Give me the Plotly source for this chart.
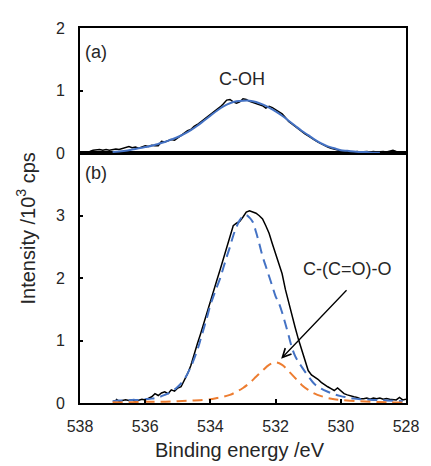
import plotly.graph_objects as go

# --- data (binding energy in eV, intensity in 10^3 cps) ---
# (a) measured spectrum, 538.0 -> 528.0 eV every 0.1 eV
energy_a = [round(538.0 - 0.1 * i, 1) for i in range(101)]
measured_a = [0.02, 0.02, 0.03, 0.03, 0.05, 0.06, 0.06, 0.05, 0.06, 0.05,
              0.06, 0.07, 0.06, 0.08, 0.10, 0.11, 0.09, 0.10, 0.08, 0.10,
              0.12, 0.11, 0.13, 0.12, 0.12, 0.19, 0.18, 0.20, 0.22, 0.21,
              0.25, 0.29, 0.32, 0.36, 0.38, 0.43, 0.46, 0.50, 0.53, 0.58,
              0.62, 0.66, 0.70, 0.74, 0.79, 0.85, 0.86, 0.82, 0.80, 0.82,
              0.87, 0.86, 0.83, 0.81, 0.80, 0.78, 0.76, 0.72, 0.75, 0.73,
              0.70, 0.66, 0.63, 0.57, 0.51, 0.47, 0.43, 0.38, 0.35, 0.31,
              0.28, 0.24, 0.21, 0.18, 0.15, 0.13, 0.10, 0.08, 0.07, 0.05,
              0.04, 0.02, 0.03, 0.01, 0.02, 0.03, 0.02, 0.03, 0.03, 0.02,
              0.03, 0.02, 0.03, 0.03, 0.02, 0.04, 0.05, 0.03, 0.02, 0.02,
              0.02]

# (a) fitted C-OH component
fit_energy_a = [537.0, 536.8, 536.6, 536.4, 536.2, 536.0, 535.8, 535.6, 535.4, 535.2,
                535.0, 534.8, 534.6, 534.4, 534.2, 534.0, 533.8, 533.6, 533.4, 533.2,
                533.0, 532.8, 532.6, 532.4, 532.2, 532.0, 531.8, 531.6, 531.4, 531.2,
                531.0, 530.8, 530.6, 530.4, 530.2, 530.0, 529.8, 529.6, 529.4, 529.2,
                529.0, 528.8]
fit_coh_a = [0.02, 0.03, 0.04, 0.06, 0.08, 0.10, 0.12, 0.15, 0.18, 0.22,
             0.26, 0.31, 0.37, 0.44, 0.52, 0.60, 0.68, 0.75, 0.80, 0.83,
             0.84, 0.84, 0.82, 0.78, 0.73, 0.67, 0.60, 0.52, 0.44, 0.36,
             0.29, 0.22, 0.16, 0.11, 0.08, 0.05, 0.04, 0.03, 0.02, 0.02,
             0.01, 0.01]

# (b) measured spectrum, 536.9 -> 528.0 eV every 0.1 eV
energy_b = [round(536.9 - 0.1 * i, 1) for i in range(90)]
measured_b = [0.06, 0.03, 0.04, 0.05, 0.04, 0.05, 0.03, 0.05, 0.06, 0.05,
              0.07, 0.10, 0.15, 0.12, 0.16, 0.18, 0.15, 0.21, 0.19, 0.24,
              0.26, 0.36, 0.47, 0.60, 0.79, 0.95, 1.11, 1.29, 1.47, 1.62,
              1.80, 1.97, 2.14, 2.32, 2.50, 2.67, 2.84, 2.88, 2.91, 2.98,
              3.06, 3.08, 3.06, 3.04, 3.00, 2.95, 2.84, 2.72, 2.55, 2.38,
              2.22, 2.07, 1.82, 1.60, 1.41, 1.21, 1.02, 0.84, 0.68, 0.52,
              0.45, 0.42, 0.38, 0.33, 0.29, 0.26, 0.23, 0.20, 0.24, 0.19,
              0.15, 0.13, 0.11, 0.10, 0.09, 0.07, 0.07, 0.08, 0.06, 0.08,
              0.07, 0.08, 0.06, 0.07, 0.06, 0.06, 0.05, 0.09, 0.05, 0.06]

# (b) fitted main component
fit_energy_b1 = [537.0, 536.8, 536.6, 536.4, 536.2, 536.0, 535.8, 535.6, 535.4, 535.2,
                 535.0, 534.8, 534.6, 534.4, 534.3, 534.2, 534.1, 534.0, 533.9, 533.8,
                 533.7, 533.6, 533.5, 533.4, 533.3, 533.2, 533.1, 533.0, 532.9, 532.8,
                 532.7, 532.6, 532.5, 532.4, 532.3, 532.2, 532.1, 532.0, 531.9, 531.8,
                 531.7, 531.6, 531.5, 531.4, 531.3, 531.2, 531.0, 530.8, 530.6, 530.4,
                 530.2, 530.0, 529.8, 529.6, 529.4, 529.0, 528.6, 528.1]
fit_main_b = [0.03, 0.04, 0.04, 0.05, 0.05, 0.06, 0.07, 0.09, 0.13, 0.18,
              0.26, 0.38, 0.58, 0.85, 1.02, 1.20, 1.38, 1.57, 1.72, 1.86,
              2.00, 2.17, 2.34, 2.50, 2.68, 2.82, 2.93, 2.99, 3.01, 2.97,
              2.90, 2.74, 2.55, 2.35, 2.19, 2.03, 1.87, 1.71, 1.60, 1.45,
              1.27, 1.08, 0.89, 0.75, 0.66, 0.58, 0.43, 0.30, 0.23, 0.18,
              0.14, 0.11, 0.09, 0.07, 0.06, 0.05, 0.04, 0.03]

# (b) fitted C-(C=O)-O component
fit_energy_b2 = [537.0, 536.5, 536.0, 535.5, 535.0, 534.5, 534.0, 533.8, 533.6, 533.4,
                 533.2, 533.0, 532.8, 532.6, 532.4, 532.2, 532.0, 531.8, 531.6, 531.4,
                 531.2, 531.0, 530.8, 530.6, 530.4, 530.2, 530.0, 529.5, 529.0, 528.5,
                 528.1]
fit_ester_b = [0.01, 0.01, 0.02, 0.02, 0.03, 0.04, 0.06, 0.08, 0.10, 0.13,
               0.18, 0.24, 0.32, 0.42, 0.52, 0.61, 0.65, 0.61, 0.51, 0.40,
               0.29, 0.21, 0.15, 0.11, 0.08, 0.06, 0.05, 0.03, 0.02, 0.01,
               0.01]

x_ticks = [538, 536, 534, 532, 530, 528]

BLACK = "#000000"
BLUE = "#4472C4"
ORANGE = "#ED7D31"
FONT = "Liberation Sans, Arial, sans-serif"
TXT = "#262626"

fig = go.Figure()

# top panel (a)
fig.add_trace(go.Scatter(x=energy_a, y=measured_a, mode="lines", xaxis="x2", yaxis="y2",
                         line=dict(color=BLACK, width=1.5)))
fig.add_trace(go.Scatter(x=fit_energy_a, y=fit_coh_a, mode="lines", xaxis="x2", yaxis="y2",
                         line=dict(color=BLUE, width=2, shape="spline")))

# bottom panel (b)
fig.add_trace(go.Scatter(x=energy_b, y=measured_b, mode="lines", xaxis="x", yaxis="y",
                         line=dict(color=BLACK, width=1.5)))
fig.add_trace(go.Scatter(x=fit_energy_b1, y=fit_main_b, mode="lines", xaxis="x", yaxis="y",
                         line=dict(color=BLUE, width=2, dash="10px,6px", shape="spline")))
fig.add_trace(go.Scatter(x=fit_energy_b2, y=fit_ester_b, mode="lines", xaxis="x", yaxis="y",
                         line=dict(color=ORANGE, width=2, dash="10px,6px", shape="spline")))

split = 251 / 377

axis_common = dict(showline=True, mirror=True, linecolor=BLACK, linewidth=2,
                   showgrid=False, zeroline=False, ticks="inside", ticklen=4,
                   tickwidth=1.5, tickcolor=BLACK,
                   tickfont=dict(family=FONT, size=16, color=TXT))

# page body adds an 8px offset, so the figure is a bit smaller than the window
fig.update_layout(
    width=423, height=458,
    margin=dict(l=72, r=19, t=18, b=63),
    paper_bgcolor="white", plot_bgcolor="white",
    showlegend=False,
    xaxis=dict(axis_common, range=[538, 528], tickvals=x_ticks, anchor="y",
               ticklabelstandoff=8),
    xaxis2=dict(axis_common, range=[538, 528], tickvals=x_ticks, anchor="y2",
                matches="x", showticklabels=False, ticks=""),
    yaxis=dict(axis_common, range=[0, 4], tickvals=[0, 1, 2, 3], domain=[0, split],
               anchor="x", ticklen=3, ticklabelstandoff=10),
    yaxis2=dict(axis_common, range=[0, 2], tickvals=[0, 1, 2], domain=[split, 1],
                anchor="x2", ticklen=3, ticklabelstandoff=10),
)

fig.add_annotation(text="(a)", xref="x2 domain", yref="y2 domain", x=0.008, y=0.81,
                   xanchor="left", yanchor="middle", showarrow=False,
                   font=dict(family=FONT, size=18, color=TXT))
fig.add_annotation(text="(b)", xref="x domain", yref="y domain", x=0.008, y=0.92,
                   xanchor="left", yanchor="middle", showarrow=False,
                   font=dict(family=FONT, size=18, color=TXT))
fig.add_annotation(text="C-OH", xref="x2", yref="y2", x=533.03, y=1.19,
                   xanchor="center", yanchor="middle", showarrow=False,
                   font=dict(family=FONT, size=18, color=TXT))
fig.add_annotation(text="C-(C=O)-O", xref="x", yref="y", x=529.8, y=2.15,
                   xanchor="center", yanchor="middle", showarrow=False,
                   font=dict(family=FONT, size=18, color=TXT))
fig.add_annotation(text="", xref="x", yref="y", x=531.83, y=0.71,
                   axref="x", ayref="y", ax=529.78, ay=1.83,
                   showarrow=True, arrowhead=5, arrowsize=1.3, arrowwidth=1.3,
                   arrowcolor=BLACK)

fig.add_annotation(text="Intensity /10<sup>3</sup> cps", xref="paper", yref="paper",
                   x=-0.166, y=0.465, textangle=-90, xanchor="center", yanchor="middle",
                   showarrow=False, font=dict(family=FONT, size=20, color=TXT))
fig.add_annotation(text="Binding energy /eV", xref="paper", yref="paper",
                   x=0.491, y=-0.125, xanchor="center", yanchor="middle",
                   showarrow=False, font=dict(family=FONT, size=20, color=TXT))

fig.write_html("out.html")
